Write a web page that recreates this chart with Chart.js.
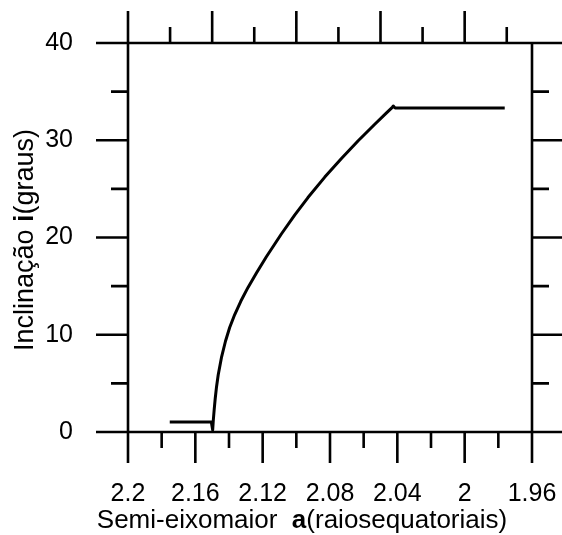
<!DOCTYPE html>
<html><head><meta charset="utf-8">
<script src="https://cdn.jsdelivr.net/npm/chart.js@4/dist/chart.umd.min.js"></script>
<style>html,body{margin:0;padding:0;background:#fff}#wrap{width:562px;height:535px;position:relative}</style>
</head><body><div id="wrap"><canvas id="c" width="562" height="535"></canvas></div>
<script>
// Semi-major axis a (equatorial radii) and inclination i (degrees)
const semiMajorAxis = [2.1752, 2.1505, 2.1497, 2.1493, 2.1488, 2.1482, 2.1474, 2.1464, 2.1445, 2.1421, 2.1396, 2.1366, 2.1330, 2.1287, 2.1237, 2.1178, 2.1089, 2.1010, 2.0931, 2.0831, 2.0732, 2.0634, 2.0534, 2.0469, 2.0430, 2.0424, 2.0413, 1.9762];
const inclination   = [1.03,   1.03,   0.21,   1.26,   2.29,   3.42,   4.66,   5.89,   7.64,   9.33,  10.75,  12.08,  13.44,  14.87,  16.35,  18.02,  20.36,  22.30,  24.11,  26.21,  28.13,  29.92,  31.64,  32.74,  33.38,  33.52,  33.32,  33.32];

const xTickValues  = [2.2, 2.16, 2.12, 2.08, 2.04, 2.0, 1.96];
const xTickLabels  = ['2.2', '2.16', '2.12', '2.08', '2.04', '2', '1.96'];
const xMinorBottom = [2.18, 2.14, 2.10, 2.06, 2.02, 1.98];
const xMajorTop    = [2.2, 2.15, 2.1, 2.05, 2.0];
const xMinorTop    = [2.175, 2.125, 2.075, 2.025, 1.975];
const yTickValues  = [0, 10, 20, 30, 40];
const yTickLabels  = ['0', '10', '20', '30', '40'];
const yMinor       = [5, 15, 25, 35];
const xTitleParts  = [['Semi-eixomaior  ', false], ['a', true], ['(raiosequatoriais)', false]];
const yTitleParts  = [['Inclinação ', false], ['i', true], ['(graus)', false]];

const FONT = "'Liberation Sans', Arial, sans-serif";

function drawParts(ctx, parts, size, cx) {
  let widths = parts.map(p => { ctx.font = (p[1] ? 'bold ' : '') + size + 'px ' + FONT; return ctx.measureText(p[0]).width; });
  const total = widths.reduce((a, b) => a + b, 0);
  let x = cx - total / 2;
  parts.forEach((p, k) => {
    ctx.font = (p[1] ? 'bold ' : '') + size + 'px ' + FONT;
    ctx.fillText(p[0], x, 0);
    x += widths[k];
  });
}

function noPad(s) { s.paddingTop = 0; s.paddingBottom = 0; s.paddingLeft = 0; s.paddingRight = 0; }

const framePlugin = {
  id: 'frame',
  afterDraw(chart) {
    const ctx = chart.ctx, xs = chart.scales.x, ys = chart.scales.y, ca = chart.chartArea;
    const L = ca.left, R = ca.right, T = ca.top, B = ca.bottom;
    ctx.save();
    ctx.strokeStyle = '#000';
    ctx.lineWidth = 2.6;
    ctx.lineCap = 'butt';
    ctx.beginPath();
    ctx.moveTo(96, T); ctx.lineTo(562, T);
    ctx.moveTo(96, B); ctx.lineTo(562, B);
    ctx.moveTo(L, T); ctx.lineTo(L, B);
    ctx.moveTo(R, T); ctx.lineTo(R, B);
    xTickValues.forEach(v => { const px = xs.getPixelForValue(v); ctx.moveTo(px, B); ctx.lineTo(px, B + 31); });
    xMinorBottom.forEach(v => { const px = xs.getPixelForValue(v); ctx.moveTo(px, B); ctx.lineTo(px, B + 16); });
    xMajorTop.forEach(v => { const px = xs.getPixelForValue(v); ctx.moveTo(px, T); ctx.lineTo(px, T - 32); });
    xMinorTop.forEach(v => { const px = xs.getPixelForValue(v); ctx.moveTo(px, T); ctx.lineTo(px, T - 16); });
    yTickValues.forEach(v => { const py = ys.getPixelForValue(v); ctx.moveTo(L - 32, py); ctx.lineTo(L, py); });
    yMinor.forEach(v => { const py = ys.getPixelForValue(v); ctx.moveTo(L - 17, py); ctx.lineTo(L, py); });
    yTickValues.forEach(v => { const py = ys.getPixelForValue(v); ctx.moveTo(R, py); ctx.lineTo(R + 30, py); });
    yMinor.forEach(v => { const py = ys.getPixelForValue(v); ctx.moveTo(R, py); ctx.lineTo(R + 17, py); });
    ctx.stroke();

    ctx.fillStyle = '#000';
    ctx.textBaseline = 'alphabetic';
    ctx.textAlign = 'left';
    ctx.save();
    ctx.translate(0, 528);
    drawParts(ctx, xTitleParts, 26, 302);
    ctx.restore();
    ctx.save();
    ctx.translate(33, 0);
    ctx.rotate(-Math.PI / 2);
    drawParts(ctx, yTitleParts, 27, -240);
    ctx.restore();
    ctx.restore();
  }
};

new Chart(document.getElementById('c'), {
  type: 'line',
  data: {
    datasets: [{
      data: semiMajorAxis.map((a, k) => ({ x: a, y: inclination[k] })),
      borderColor: '#000',
      borderWidth: 3,
      pointRadius: 0,
      tension: 0,
      borderJoinStyle: 'round',
      fill: false
    }]
  },
  options: {
    responsive: false,
    animation: false,
    devicePixelRatio: 1,
    layout: { padding: { top: 43, right: 30, left: 0, bottom: 0 } },
    plugins: { legend: { display: false }, tooltip: { enabled: false } },
    scales: {
      x: {
        type: 'linear', reverse: true, min: 1.96, max: 2.2,
        afterBuildTicks: s => { s.ticks = xTickValues.map(v => ({ value: v })); },
        afterFit: s => { s.height = 103; noPad(s); },
        grid: { display: false }, border: { display: false },
        ticks: { autoSkip: false, maxRotation: 0, padding: 39, color: '#000',
          font: { size: 25, family: FONT },
          callback: (v, i) => xTickLabels[i] }
      },
      y: {
        type: 'linear', min: 0, max: 40,
        afterBuildTicks: s => { s.ticks = yTickValues.map(v => ({ value: v })); },
        afterFit: s => { s.width = 128; noPad(s); },
        grid: { display: false }, border: { display: false },
        ticks: { autoSkip: false, padding: 47, color: '#000',
          font: { size: 25, family: FONT },
          callback: (v, i) => yTickLabels[i] }
      }
    }
  },
  plugins: [framePlugin]
});
</script></body></html>
